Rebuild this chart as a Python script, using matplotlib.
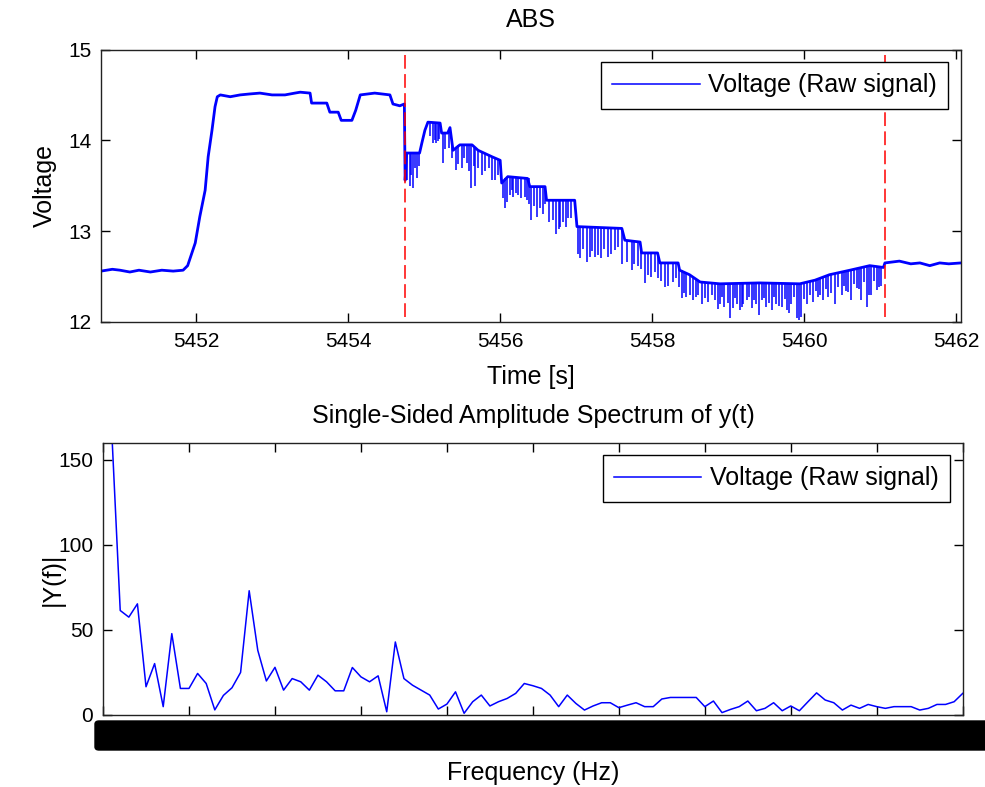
import matplotlib
matplotlib.use('Agg')
import matplotlib.pyplot as plt
from matplotlib.patches import FancyBboxPatch
import numpy as np

plt.rcParams['font.family'] = ['Liberation Sans', 'DejaVu Sans']

# ABS voltage, upper level of the raw signal
sig_t = [5450.75, 5450.90, 5451.00, 5451.13, 5451.25, 5451.40, 5451.55, 5451.70, 5451.83, 5451.89,
         5451.99, 5452.05, 5452.12, 5452.16, 5452.21, 5452.25, 5452.28, 5452.32, 5452.45,
         5452.58, 5452.70, 5452.84, 5453.00, 5453.17, 5453.30, 5453.37, 5453.50, 5453.52,
         5453.72, 5453.76, 5453.87, 5453.91, 5454.05, 5454.10, 5454.16, 5454.35, 5454.55,
         5454.59, 5454.68, 5454.74, 5454.75, 5454.77, 5454.94, 5454.97, 5455.01, 5455.05,
         5455.21, 5455.23, 5455.31, 5455.34, 5455.38, 5455.47, 5455.63, 5455.71, 5455.89,
         5456.00, 5456.02, 5456.10, 5456.36, 5456.39, 5456.59, 5456.61, 5456.98, 5457.01,
         5457.60, 5457.64, 5457.84, 5457.86, 5458.07, 5458.10, 5458.34, 5458.36, 5458.49,
         5458.63, 5458.89, 5459.41, 5459.94, 5460.14, 5460.33, 5460.60, 5460.86, 5461.04,
         5461.06, 5461.25, 5461.40, 5461.52, 5461.65, 5461.78, 5461.90, 5462.06]
sig_v = [12.56, 12.58, 12.57, 12.55, 12.57, 12.55, 12.57, 12.56, 12.57, 12.62,
         12.87, 13.16, 13.45, 13.82, 14.11, 14.37, 14.48, 14.50, 14.48,
         14.50, 14.51, 14.52, 14.50, 14.50, 14.52, 14.53, 14.52, 14.41,
         14.41, 14.31, 14.31, 14.22, 14.22, 14.33, 14.50, 14.52, 14.50,
         14.40, 14.38, 14.40, 13.56, 13.86, 13.86, 13.97, 14.11, 14.20,
         14.19, 14.08, 14.08, 14.14, 13.89, 13.95, 13.95, 13.89, 13.82,
         13.78, 13.53, 13.60, 13.58, 13.49, 13.49, 13.34, 13.34, 13.05,
         13.03, 12.90, 12.88, 12.76, 12.76, 12.65, 12.65, 12.57, 12.52,
         12.44, 12.42, 12.43, 12.42, 12.46, 12.52, 12.57, 12.62, 12.60,
         12.65, 12.67, 12.64, 12.65, 12.62, 12.65, 12.64, 12.65]

# downward spikes: time, level before the dip, bottom of the dip
spike_t = [5454.78, 5454.81, 5454.85, 5454.90, 5455.12, 5455.16, 5455.18, 5455.25, 5455.33,
           5455.42, 5455.50, 5455.56, 5455.62, 5455.67, 5455.76, 5455.89, 5455.93, 5456.06,
           5456.13, 5456.17, 5456.28, 5456.35, 5456.41, 5456.49, 5456.56, 5456.74, 5456.79,
           5456.89, 5457.05, 5457.14, 5457.25, 5457.33, 5457.42, 5457.51, 5457.60, 5457.73,
           5457.81, 5457.90, 5457.99, 5458.07, 5458.17, 5458.27, 5458.39, 5458.45, 5458.49,
           5458.54, 5458.60, 5458.65, 5458.73, 5458.82, 5458.89, 5458.95, 5459.02, 5459.06,
           5459.11, 5459.15, 5459.20, 5459.24, 5459.31, 5459.37, 5459.44, 5459.50, 5459.57,
           5459.63, 5459.70, 5459.77, 5459.83, 5459.90, 5459.96, 5460.03, 5460.12, 5460.18,
           5460.25, 5460.31, 5460.40, 5460.49, 5460.55, 5460.62, 5460.69, 5460.75, 5460.82,
           5460.88, 5460.95, 5461.01,
           # smaller dips in between
           5454.83, 5454.88, 5454.93, 5455.08, 5455.14, 5455.20, 5455.28, 5455.37, 5455.45,
           5455.53, 5455.59, 5455.65, 5455.71, 5455.80, 5455.85, 5455.97, 5456.04, 5456.09,
           5456.15, 5456.21, 5456.24, 5456.32, 5456.38, 5456.45, 5456.52, 5456.59, 5456.64,
           5456.70, 5456.77, 5456.83, 5456.86, 5456.93, 5457.03, 5457.09, 5457.18, 5457.21,
           5457.29, 5457.37, 5457.46, 5457.55, 5457.67, 5457.76, 5457.85, 5457.94, 5458.03,
           5458.12, 5458.21, 5458.31, 5458.35, 5458.42, 5458.57, 5458.69, 5458.78, 5458.86,
           5458.92, 5458.99, 5459.09, 5459.18, 5459.27, 5459.34, 5459.41, 5459.47, 5459.54,
           5459.60, 5459.67, 5459.74, 5459.80, 5459.86, 5459.93, 5460.00, 5460.07, 5460.15,
           5460.21, 5460.28, 5460.35, 5460.44, 5460.52, 5460.58, 5460.65, 5460.72, 5460.79,
           5460.85, 5460.91, 5460.98]
spike_hi = [13.86, 13.86, 13.86, 13.86, 14.19, 14.19, 14.19, 14.08, 14.12,
            13.92, 13.95, 13.95, 13.95, 13.92, 13.87, 13.82, 13.80, 13.58,
            13.60, 13.60, 13.60, 13.58, 13.49, 13.49, 13.49, 13.34, 13.34,
            13.34, 13.04, 13.04, 13.04, 13.03, 13.03, 13.03, 13.03, 12.90,
            12.88, 12.76, 12.76, 12.72, 12.65, 12.65, 12.57, 12.55, 12.52,
            12.48, 12.46, 12.44, 12.43, 12.42, 12.42, 12.42, 12.43, 12.43,
            12.43, 12.43, 12.43, 12.43, 12.43, 12.43, 12.43, 12.43, 12.43,
            12.42, 12.42, 12.42, 12.42, 12.42, 12.42, 12.44, 12.46, 12.47,
            12.49, 12.51, 12.54, 12.56, 12.57, 12.58, 12.59, 12.60, 12.61,
            12.62, 12.62, 12.61,
            13.86, 13.86, 13.86, 14.20, 14.19, 14.19, 14.08, 13.95, 13.95,
            13.95, 13.95, 13.93, 13.89, 13.85, 13.84, 13.79, 13.55, 13.60,
            13.60, 13.60, 13.60, 13.59, 13.58, 13.49, 13.49, 13.49, 13.34,
            13.34, 13.34, 13.34, 13.34, 13.34, 13.05, 13.04, 13.04, 13.04,
            13.04, 13.03, 13.03, 13.03, 12.90, 12.89, 12.80, 12.76, 12.76,
            12.65, 12.65, 12.65, 12.60, 12.55, 12.47, 12.44, 12.42, 12.42,
            12.42, 12.42, 12.43, 12.43, 12.43, 12.43, 12.43, 12.43, 12.43,
            12.42, 12.42, 12.42, 12.42, 12.42, 12.42, 12.43, 12.45, 12.46,
            12.48, 12.50, 12.52, 12.55, 12.56, 12.57, 12.58, 12.60, 12.60,
            12.61, 12.62, 12.62]
spike_lo = [13.56, 13.50, 13.47, 13.59, 13.97, 13.97, 13.99, 13.75, 13.92,
            13.67, 13.70, 13.75, 13.47, 13.50, 13.62, 13.56, 13.56, 13.25,
            13.40, 13.38, 13.36, 13.34, 13.12, 13.16, 13.19, 12.97, 13.05,
            13.14, 12.70, 12.66, 12.72, 12.70, 12.72, 12.79, 12.64, 12.57,
            12.62, 12.43, 12.50, 12.48, 12.39, 12.44, 12.26, 12.28, 12.30,
            12.24, 12.30, 12.20, 12.22, 12.24, 12.20, 12.17, 12.04, 12.15,
            12.20, 12.13, 12.20, 12.24, 12.15, 12.20, 12.24, 12.17, 12.13,
            12.20, 12.17, 12.13, 12.20, 12.04, 12.06, 12.20, 12.22, 12.28,
            12.24, 12.28, 12.20, 12.30, 12.34, 12.24, 12.37, 12.24, 12.17,
            12.30, 12.35, 12.40,
            13.62, 13.70, 13.72, 14.05, 14.00, 14.02, 13.90, 13.80, 13.74,
            13.80, 13.66, 13.72, 13.70, 13.66, 13.70, 13.62, 13.36, 13.32,
            13.45, 13.42, 13.40, 13.38, 13.30, 13.28, 13.25, 13.30, 13.10,
            13.12, 13.02, 13.10, 13.05, 13.15, 12.75, 12.80, 12.72, 12.78,
            12.74, 12.80, 12.75, 12.82, 12.66, 12.64, 12.58, 12.52, 12.55,
            12.45, 12.40, 12.48, 12.38, 12.32, 12.28, 12.26, 12.30, 12.14,
            12.28, 12.21, 12.26, 12.17, 12.28, 12.24, 12.08, 12.26, 12.21,
            12.27, 12.18, 12.25, 12.10, 12.27, 12.02, 12.25, 12.30, 12.34,
            12.30, 12.36, 12.32, 12.38, 12.40, 12.33, 12.42, 12.36, 12.44,
            12.30, 12.45, 12.38]

# event markers (red dashed)
event_t = [5454.75, 5461.06]

# single-sided amplitude spectrum
df = 0.1
amp = [600.0, 168.0, 61.4, 57.5, 65.3, 16.6, 30.2, 4.9, 47.8, 15.6,
       15.6, 24.4, 18.5, 3.0, 11.5, 16.0, 25.0, 73.0, 38.0, 20.0,
       28.0, 14.6, 21.4, 19.5, 14.6, 23.4, 19.5, 14.2, 14.2, 27.9,
       22.4, 19.5, 23.0, 1.9, 42.9, 21.4, 17.5, 14.6, 11.7, 3.5,
       6.4, 13.6, 1.0, 7.8, 11.7, 5.3, 7.8, 9.7, 12.7, 18.5,
       17.2, 15.6, 11.7, 4.9, 11.7, 6.8, 2.9, 5.3, 7.2, 7.2,
       4.3, 5.8, 7.2, 4.9, 4.9, 9.4, 10.3, 10.3, 10.3, 10.3,
       4.9, 8.2, 1.4, 3.3, 4.9, 8.2, 2.5, 3.9, 7.2, 2.5,
       5.3, 2.5, 7.8, 13.0, 8.8, 7.2, 2.9, 5.8, 3.9, 6.2,
       4.9, 3.9, 4.9, 4.9, 4.9, 2.9, 3.9, 6.2, 6.2, 7.8,
       12.7]
freq = np.arange(len(amp)) * df

FS = 18


def add_legend(ax):
    leg = ax.legend(loc='upper right', fontsize=FS, handlelength=3.5, handletextpad=0.35,
                    fancybox=False, edgecolor='black', framealpha=1, borderaxespad=0.5,
                    borderpad=0.45)
    leg.get_frame().set_linewidth(1.0)
    for h in leg.legend_handles:
        h.set_linewidth(1.1)
    return leg


fig = plt.figure(figsize=(9.85, 7.87), dpi=100)

# --- top: raw signal ---
ax1 = fig.add_axes([0.1025, 0.5909, 0.8731, 0.3462])
ax1.plot(sig_t, sig_v, color='#0000ff', lw=2.0, label='Voltage (Raw signal)')
ax1.vlines(spike_t, spike_lo, spike_hi, color='#0000ff', lw=1.1)
for tm in event_t:
    ax1.axvline(tm, ymin=0.02, ymax=1, color='#ff0000', lw=1.1, ls=(0, (9, 3.5)))
ax1.set_xlim(5450.75, 5462.06)
ax1.set_ylim(12, 15)
ax1.set_xticks([5452, 5454, 5456, 5458, 5460, 5462])
ax1.set_yticks([12, 13, 14, 15])
ax1.set_title('ABS', fontsize=FS, pad=16)
ax1.set_xlabel('Time [s]', fontsize=FS, labelpad=10)
ax1.set_ylabel('Voltage', fontsize=FS, labelpad=8)
add_legend(ax1)

# --- bottom: spectrum ---
ax2 = fig.add_axes([0.1046, 0.0915, 0.8728, 0.3460])
ax2.plot(freq, amp, color='#0000ff', lw=1.1, label='Voltage (Raw signal)')
ax2.set_xlim(0, 10)
ax2.set_ylim(0, 160)
ax2.set_xticks(np.arange(0, 11, 1))
ax2.set_xticklabels([])
ax2.set_yticks([0, 50, 100, 150])
ax2.set_title('Single-Sided Amplitude Spectrum of y(t)', fontsize=FS, pad=14)
ax2.set_xlabel('Frequency (Hz)', fontsize=FS, labelpad=26)
ax2.set_ylabel('|Y(f)|', fontsize=FS, labelpad=-5)
add_legend(ax2)

for ax in (ax1, ax2):
    ax.tick_params(direction='in', top=True, right=True, length=6.5, width=1.0,
                   labelsize=15, colors='black', pad=7)
    for sp in ax.spines.values():
        sp.set_color('#222222')
        sp.set_linewidth(1.0)

# overlapping frequency tick labels render as a solid black band
fig.patches.append(FancyBboxPatch((95 / 985, 1 - 750 / 787), 900 / 985, 29 / 787,
                                  boxstyle='round,pad=0,rounding_size=0.004',
                                  transform=fig.transFigure, fc='black', ec='black'))

fig.savefig('out.png', dpi=100)
